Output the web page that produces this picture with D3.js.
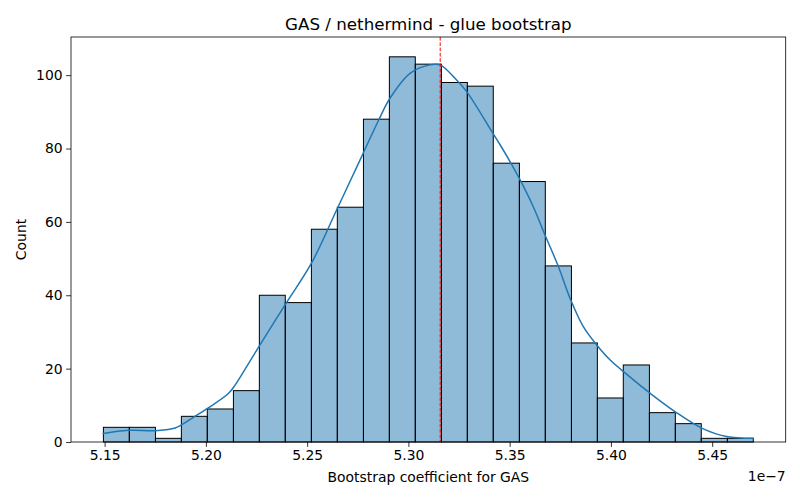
<!DOCTYPE html>
<html>
<head>
<meta charset="utf-8">
<script src="https://cdn.jsdelivr.net/npm/d3@7"></script>
<style>
  body { margin: 0; background: #fff; }
  svg { display: block; font-family: "DejaVu Sans", sans-serif; }
</style>
</head>
<body>
<svg id="chart" width="800" height="500"></svg>
<script>
// values in units of 1e-7
var binEdges = [5.1494, 5.1622, 5.1751, 5.1879, 5.2007, 5.2136, 5.2264, 5.2392, 5.2521,
  5.2649, 5.2778, 5.2906, 5.3034, 5.3163, 5.3291, 5.3419, 5.3548, 5.3676, 5.3805,
  5.3933, 5.4061, 5.4190, 5.4318, 5.4446, 5.4575, 5.4703];
var counts = [4, 4, 1, 7, 9, 14, 40, 38, 58, 64, 88, 105, 103, 98, 97, 76, 71, 48, 27, 12, 21, 8, 5, 1, 1];

// kde curve
var kdeX = [5.1494, 5.1617, 5.1749, 5.1848, 5.1946, 5.2012, 5.2111, 5.2144, 5.2193, 5.2264,
  5.2391, 5.2522, 5.2646, 5.2769, 5.2851, 5.2909, 5.3008, 5.3106, 5.3156, 5.3238, 5.3288,
  5.3419, 5.3452, 5.3501, 5.3551, 5.3616, 5.3674, 5.3740, 5.3801, 5.3863, 5.3929, 5.3995,
  5.4077, 5.4143, 5.4193, 5.4316, 5.4448, 5.4571, 5.4702];
var kdeY = [2.3, 3.2, 3.1, 3.8, 7.0, 9.3, 13.2, 15.5, 19.8, 26.2,
  37.4, 48.8, 63.3, 77.8, 87.5, 93.7, 100.5, 102.8, 102.8, 98.7, 95.5,
  84.0, 81.1, 76.5, 71.5, 64.2, 56.5, 47.9, 38.8, 31.5, 26.5, 22.4,
  18.5, 15.5, 13.3, 8.3, 3.8, 1.5, 1.0];

var meanValue = 5.3157;
var xTicks = [5.15, 5.20, 5.25, 5.30, 5.35, 5.40, 5.45];
var yTicks = [0, 20, 40, 60, 80, 100];

var margin = {left: 71, top: 37, right: 14.3, bottom: 58};
var width = 800 - margin.left - margin.right;
var height = 500 - margin.top - margin.bottom;

var svg = d3.select('#chart');
var g = svg.append('g').attr('transform', 'translate(' + margin.left + ',' + margin.top + ')');

var x = d3.scaleLinear().domain([5.1334, 5.4863]).range([0, width]);
var y = d3.scaleLinear().domain([0, 110.4]).range([height, 0]);

//bars
var bars = counts.map(function (c, i) {
  return {x0: binEdges[i], x1: binEdges[i + 1], count: c};
});

g.selectAll('rect.bar')
  .data(bars)
  .enter().append('rect')
  .attr('class', 'bar')
  .attr('x', function (d) { return x(d.x0); })
  .attr('y', function (d) { return y(d.count); })
  .attr('width', function (d) { return x(d.x1) - x(d.x0); })
  .attr('height', function (d) { return y(0) - y(d.count); })
  .attr('fill', 'rgba(31,119,180,0.5)')
  .attr('stroke', '#000')
  .attr('stroke-width', 1);

//kde line
var kdePts = kdeX.map(function (v, i) { return [v, kdeY[i]]; });
var line = d3.line()
  .x(function (d) { return x(d[0]); })
  .y(function (d) { return y(d[1]); })
  .curve(d3.curveCatmullRom.alpha(0.5));

g.append('path')
  .datum(kdePts)
  .attr('d', line)
  .attr('fill', 'none')
  .attr('stroke', '#1f77b4')
  .attr('stroke-width', 1.5)
  .attr('stroke-linecap', 'square');

//mean line
g.append('line')
  .attr('x1', x(meanValue)).attr('x2', x(meanValue))
  .attr('y1', 0).attr('y2', height)
  .attr('stroke', 'red')
  .attr('stroke-width', 1)
  .attr('stroke-dasharray', '3.7,1.6');

//axes
var xAxis = d3.axisBottom(x).tickValues(xTicks).tickFormat(d3.format('.2f'))
  .tickSize(4.9).tickPadding(3.5);
var yAxis = d3.axisLeft(y).tickValues(yTicks).tickFormat(d3.format('d'))
  .tickSize(4.9).tickPadding(3.5);

var gx = g.append('g').attr('transform', 'translate(0,' + height + ')').call(xAxis);
var gy = g.append('g').call(yAxis);

[gx, gy].forEach(function (ax) {
  ax.select('.domain').remove();
  ax.selectAll('.tick line').attr('stroke', '#000').attr('stroke-width', 0.8);
  ax.selectAll('.tick text').attr('fill', '#000').style('font-size', '13.9px')
    .style('font-family', '"DejaVu Sans", sans-serif');
});

//frame
g.append('rect')
  .attr('x', 0).attr('y', 0)
  .attr('width', width).attr('height', height)
  .attr('fill', 'none')
  .attr('stroke', '#000')
  .attr('stroke-width', 0.8);

//texts
svg.append('text')
  .attr('x', margin.left + width / 2)
  .attr('y', 30)
  .attr('text-anchor', 'middle')
  .style('font-size', '16.7px')
  .text('GAS / nethermind - glue bootstrap');

svg.append('text')
  .attr('x', margin.left + width / 2)
  .attr('y', 482)
  .attr('text-anchor', 'middle')
  .style('font-size', '13.9px')
  .text('Bootstrap coefficient for GAS');

svg.append('text')
  .attr('x', margin.left + width)
  .attr('y', 481)
  .attr('text-anchor', 'end')
  .style('font-size', '13.9px')
  .text('1e\u22127');

svg.append('text')
  .attr('transform', 'translate(26,' + (margin.top + height / 2) + ') rotate(-90)')
  .attr('text-anchor', 'middle')
  .style('font-size', '13.9px')
  .text('Count');
</script>
</body>
</html>
